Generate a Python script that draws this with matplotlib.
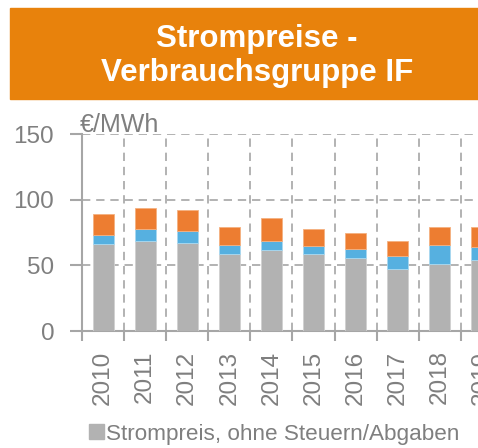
import numpy as np
import matplotlib
matplotlib.use("Agg")
import matplotlib.pyplot as plt
from matplotlib.patches import Rectangle, Patch

plt.rcParams['font.family'] = ['Liberation Sans', 'DejaVu Sans']

# Daten, €/MWh
jahre = ['2010', '2011', '2012', '2013', '2014', '2015', '2016', '2017', '2018', '2019']
strompreis = [66.1, 68.9, 67.4, 58.7, 61.5, 58.7, 55.7, 47.0, 51.3, 54.1]
blau_teil = [6.9, 8.6, 8.6, 7.1, 7.1, 5.9, 7.1, 10.2, 14.5, 10.2]
orange_teil = [16.2, 16.1, 16.0, 13.3, 17.6, 12.9, 11.7, 11.4, 13.3, 14.8]

grau = '#B2B2B2'
blau = '#56B0E0'
orange = '#ED7D31'
text_grau = '#7F7F7F'
achse_grau = '#A6A6A6'

W, H = 478, 448
fig = plt.figure(figsize=(W / 100, H / 100), dpi=100)

# Titelbox
fig.patches.append(Rectangle((10 / W, 1 - 99 / H), 1.0, 91 / H,
                             transform=fig.transFigure, color='#E8820C', zorder=0))
fig.text(257 / W, 1 - 56 / H, 'Strompreise -\nVerbrauchsgruppe IF', ha='center', va='center',
         color='white', fontsize=22.5, fontweight='bold', linespacing=1.2)

# Achse (rechts abgeschnitten wie im Original)
ax = fig.add_axes([82 / W, 1 - 331 / H, 463 / W, (331 - 134.3) / H])
x = np.arange(len(jahre))
ax.bar(x, strompreis, width=0.5, color=grau, edgecolor='#D0D0D0', linewidth=0.6, zorder=3)
unten = np.array(strompreis)
ax.bar(x, blau_teil, width=0.5, bottom=unten, color=blau, edgecolor='#A8D8F0', linewidth=0.6, zorder=3)
unten = unten + np.array(blau_teil)
ax.bar(x, orange_teil, width=0.5, bottom=unten, color=orange, edgecolor='#F4B080', linewidth=0.6, zorder=3)

ax.set_xlim(-0.5, 10.5)
ax.set_ylim(0, 150)
ax.set_yticks([0, 50, 100, 150])
ax.set_xticks(x)
ax.set_xticklabels(jahre, rotation=90)
ax.set_xticks(np.arange(-0.5, 11, 1), minor=True)

ax.tick_params(axis='y', length=9, width=1.5, color=achse_grau, labelcolor=text_grau,
               labelsize=17.5, pad=11)
ax.tick_params(axis='x', which='major', length=0, labelcolor=text_grau, labelsize=17.5, pad=14)
ax.tick_params(axis='x', which='minor', length=7, width=1.5, color=achse_grau)

for s in ['top', 'right']:
    ax.spines[s].set_visible(False)
for s in ['left', 'bottom']:
    ax.spines[s].set_color(achse_grau)
    ax.spines[s].set_linewidth(1.5)

ax.grid(axis='y', which='major', color=achse_grau, linestyle=(0, (5, 3.5)), linewidth=1.2, zorder=1)
ax.grid(axis='x', which='minor', color=achse_grau, linestyle=(0, (5, 3.5)), linewidth=1.2, zorder=1)
ax.grid(axis='x', which='major', visible=False)

fig.text(80 / W, 1 - 131.5 / H, '€/MWh', color=text_grau, fontsize=18, ha='left', va='baseline')

fig.legend(handles=[Patch(color=grau, label='Strompreis, ohne Steuern/Abgaben')],
           loc='center left', bbox_to_anchor=(80 / W, 1 - 434 / H), frameon=False,
           fontsize=16.2, labelcolor=text_grau, handlelength=0.65, handleheight=0.65,
           handletextpad=0.12, borderaxespad=0)

fig.savefig('out.png', dpi=100)
